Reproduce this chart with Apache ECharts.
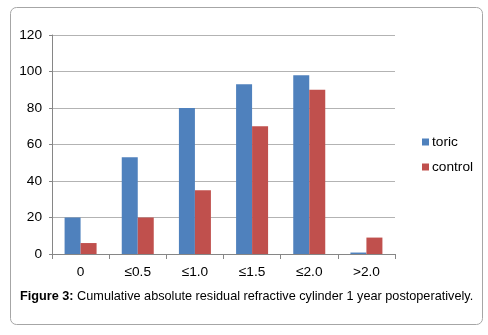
<!DOCTYPE html>
<html>
<head>
<meta charset="utf-8">
<script src="https://cdn.jsdelivr.net/npm/echarts@6/dist/echarts.min.js"></script>
<style>
  html, body { margin: 0; padding: 0; background: #fff; }
  #chart { width: 488px; height: 335px; }
</style>
</head>
<body>
<div id="chart"></div>
<script>
// data
const categories = ['0', '≤0.5', '≤1.0', '≤1.5', '≤2.0', '>2.0'];
const toric = [20, 53, 80, 93, 98, 0.8];
const control = [6, 20, 35, 70, 90, 9];
const yTicks = [0, 20, 40, 60, 80, 100, 120];

const font = 'Liberation Sans, Arial, sans-serif';
const chart = echarts.init(document.getElementById('chart'));

chart.setOption({
  animation: false,
  textStyle: { fontFamily: font },
  grid: { left: 52, right: 93, top: 35, bottom: 81 },
  legend: {
    orient: 'vertical',
    left: 417,
    top: 130,
    itemWidth: 7,
    itemHeight: 7,
    itemGap: 11,
    icon: 'rect',
    textStyle: { fontSize: 13.7, color: '#000', padding: [0, 0, 0, -2] },
    data: ['toric', 'control']
  },
  xAxis: {
    type: 'category',
    data: categories,
    axisLine: { lineStyle: { color: '#868686' } },
    axisTick: { show: true, length: 5, lineStyle: { color: '#868686' } },
    axisLabel: { color: '#000', fontSize: 13.7, margin: 11 }
  },
  yAxis: {
    type: 'value',
    min: yTicks[0],
    max: yTicks[yTicks.length - 1],
    interval: 20,
    axisLine: { show: true, lineStyle: { color: '#868686' } },
    axisTick: { show: true, length: 3, lineStyle: { color: '#868686' } },
    axisLabel: { color: '#000', fontSize: 13.7, margin: 10 },
    splitLine: { lineStyle: { color: '#b3b3b3' } }
  },
  series: [
    {
      name: 'toric',
      type: 'bar',
      data: toric,
      barWidth: 16,
      barGap: '0%',
      itemStyle: { color: '#4F81BD' }
    },
    {
      name: 'control',
      type: 'bar',
      data: control,
      barWidth: 16,
      barGap: '0%',
      itemStyle: { color: '#C0504D' }
    }
  ],
  graphic: [
    {
      type: 'rect',
      shape: { x: 10.5, y: 7.5, width: 472, height: 317, r: 6 },
      style: { fill: 'none', stroke: '#a6a6a6', lineWidth: 1 },
      silent: true
    },
    {
      type: 'text',
      left: 20,
      top: 290,
      style: {
        text: '{b|Figure 3:} Cumulative absolute residual refractive cylinder 1 year postoperatively.',
        font: '12.7px ' + font,
        fill: '#000',
        rich: {
          b: { fontWeight: 'bold', fontSize: 12.7, fontFamily: font, fill: '#000' }
        }
      }
    }
  ]
});
</script>
</body>
</html>
